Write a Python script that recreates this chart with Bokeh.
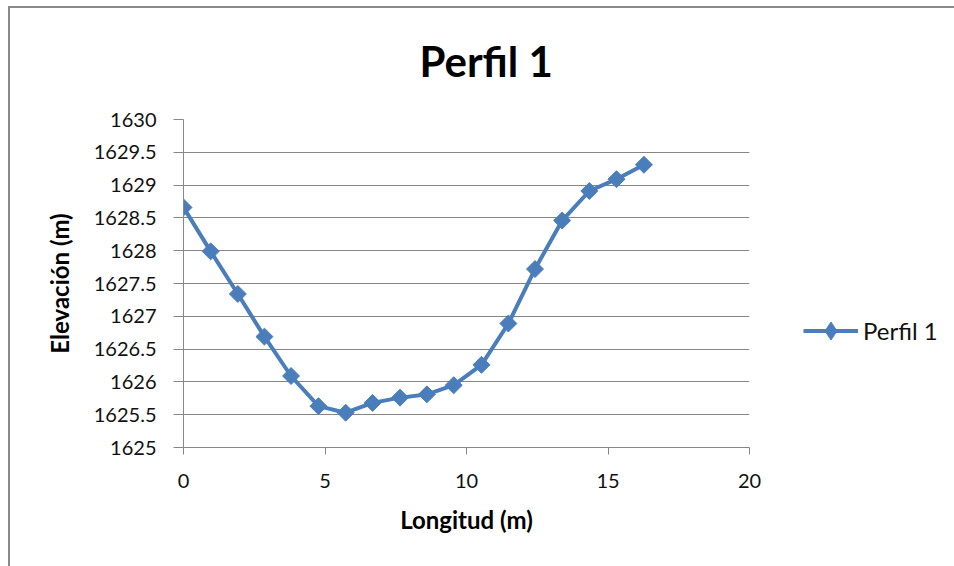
from bokeh.plotting import figure
from bokeh.models import FixedTicker, Legend, LegendItem, InlineStyleSheet
from bokeh.embed import file_html
from bokeh.resources import INLINE
import numpy as np

# Data
longitud = [0.0, 0.96, 1.92, 2.86, 3.80, 4.77, 5.73, 6.68, 7.65, 8.60,
            9.55, 10.53, 11.48, 12.42, 13.38, 14.34, 15.30, 16.27]
elevacion = [1628.66, 1627.99, 1627.34, 1626.69, 1626.09, 1625.63, 1625.53, 1625.68,
             1625.76, 1625.81, 1625.95, 1626.26, 1626.89, 1627.72, 1628.46, 1628.91,
             1629.09, 1629.31]
series_name = "Perfil 1"
y_ticks = [1625, 1625.5, 1626, 1626.5, 1627, 1627.5, 1628, 1628.5, 1629, 1629.5, 1630]
y_tick_labels = ["1625", "1625.5", "1626", "1626.5", "1627", "1627.5", "1628",
                 "1628.5", "1629", "1629.5", "1630"]
x_ticks = [0, 5, 10, 15, 20]

FONT = "Lato"
BLUE = "#4A7EBB"
GRID = "#868686"

p = figure(frame_width=566, frame_height=328, x_range=(0, 20), y_range=(1625, 1630),
           output_backend="svg", toolbar_location=None,
           min_border_left=183, min_border_right=205, min_border_top=119, min_border_bottom=119)
# chart-area border (left and top edges visible in the reference)
p.stylesheets = [InlineStyleSheet(css=(
    ":host::after { content: ''; position: absolute; left: 8px; top: 6px; "
    "width: 946px; height: 560px; box-sizing: border-box; "
    "border-left: 2px solid #8a8a8a; border-top: 2px solid #8a8a8a; "
    "pointer-events: none; z-index: 10; }"))]
p.outline_line_color = None
p.background_fill_color = "white"
p.border_fill_color = "white"

p.title.text = "Perfil 1"
p.title.align = "left"
p.title.offset = 236
p.title.vertical_align = "middle"
p.title.standoff = 66
p.title.text_font = FONT
p.title.text_font_size = "42px"
p.title.text_font_style = "bold"
p.title.text_color = "black"

line_r = p.line(longitud, elevacion, line_color=BLUE, line_width=4)
# zero-size twin used only to give the legend a diamond swatch
leg_pts = p.scatter(longitud, elevacion, marker="diamond", size=0,
                    fill_color=BLUE, line_color=BLUE, line_width=1)
pts_r = p.scatter(longitud, elevacion, marker="square", size=12, angle=np.pi / 4,
                  fill_color=BLUE, line_color=BLUE, line_width=1)

# axes
p.xaxis.ticker = FixedTicker(ticks=x_ticks)
p.yaxis.ticker = FixedTicker(ticks=y_ticks)
p.yaxis.major_label_overrides = {t: l for t, l in zip(y_ticks, y_tick_labels)}
for ax in (p.xaxis, p.yaxis):
    ax.axis_line_color = GRID
    ax.axis_line_width = 1
    ax.major_tick_line_color = GRID
    ax.minor_tick_line_color = None
    ax.major_tick_in = 0
    ax.major_label_text_font = FONT
    ax.major_label_text_font_size = "20px"
    ax.major_label_text_color = "#111111"
    ax.axis_label_text_font = FONT
    ax.axis_label_text_font_size = "24px"
    ax.axis_label_text_font_style = "bold"
    ax.axis_label_text_color = "black"
p.xaxis.major_tick_out = 7
p.yaxis.major_tick_out = 10
p.xaxis.major_label_standoff = 19
p.yaxis.major_label_standoff = 17
p.xaxis.axis_label = "Longitud (m)"
p.yaxis.axis_label = "Elevación (m)"
p.xaxis.axis_label_standoff = 14
p.yaxis.axis_label_standoff = 17

p.xgrid.grid_line_color = None
p.ygrid.grid_line_color = GRID
p.ygrid.grid_line_width = 1

legend = Legend(items=[LegendItem(label=series_name, renderers=[line_r, leg_pts])],
                location=(54, 94), border_line_color=None, background_fill_alpha=0,
                padding=0, margin=0, spacing=0, glyph_width=55, glyph_height=45,
                label_height=45, label_standoff=5,
                label_text_font=FONT, label_text_font_size="24px", label_text_color="#111111")
p.add_layout(legend, "right")

open("out.html", "w").write(file_html(p, INLINE))
